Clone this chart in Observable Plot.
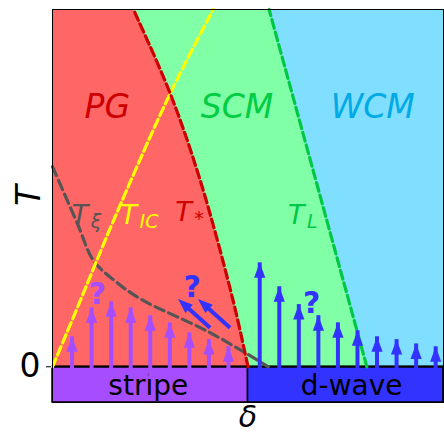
<!DOCTYPE html>
<html><head><meta charset="utf-8">
<script src="https://cdn.jsdelivr.net/npm/d3@7"></script>
<script src="https://cdn.jsdelivr.net/npm/@observablehq/plot@0.6"></script>
<style>body{margin:0;background:#fff;} svg{display:block;}</style>
</head><body><div id="chart"></div>
<script>
// Phase boundaries (δ, T)
const tStarX = [0.500, 0.462, 0.378, 0.301, 0.207];
const tStarY = [0, 0.185, 0.521, 0.765, 1];
const tIcX = [0, 0.071, 0.156, 0.301, 0.411];
const tIcY = [0, 0.185, 0.409, 0.765, 1];
const tXiX = [0.0, 0.064, 0.105, 0.161, 0.225, 0.404, 0.552];
const tXiY = [0.56, 0.40, 0.297, 0.239, 0.19, 0.095, 0.0];
const tLX = [0.804, 0.554];
const tLY = [0, 1];

// Regions
const regionNames = ["PG", "SCM", "WCM"];
const regionX = [0.14, 0.472, 0.819];
const regionY = [0.727, 0.727, 0.727];

// Curve labels
const curveSubs = ["ξ", "IC", "*", "L"];
const curveLabelX = [0.049, 0.174, 0.314, 0.602];
const curveLabelY = [0.425, 0.425, 0.433, 0.425];

// Ground-state bands
const bandNames = ["stripe", "d-wave"];
const bandX1 = [0, 0.5];
const bandX2 = [0.5, 1];
const bandLabelX = [0.245, 0.765];

// Arrows (order parameter strength)
const stripeX = [0.05, 0.10, 0.15, 0.20, 0.25, 0.30, 0.35, 0.40, 0.45];
const stripeH = [0.084, 0.165, 0.182, 0.165, 0.143, 0.123, 0.095, 0.076, 0.056];
const dwaveX = [0.53, 0.58, 0.63, 0.68, 0.73, 0.78, 0.83, 0.88, 0.93, 0.98];
const dwaveH = [0.291, 0.224, 0.174, 0.143, 0.123, 0.101, 0.084, 0.076, 0.064, 0.056];
const diagX1 = [0.403, 0.454];
const diagY1 = [0.109, 0.109];
const diagX2 = [0.321, 0.372];
const diagY2 = [0.190, 0.190];

// Question marks
const qX = [0.115, 0.357, 0.663];
const qY = [0.202, 0.223, 0.178];
const qKind = ["stripe", "d-wave", "d-wave"];

// y tick
const yTicks = [0];

// styles
const C = {
  red: "#ff6666", green: "#80ffa6", blue: "#80dfff",
  PG: "#cc0000", SCM: "#00cc44", WCM: "#00aae6",
  stripe: "#a64dff", "d-wave": "#3333ff",
  lines: ["#555555", "#ffff00", "#cc0000", "#00c846"]
};
const W = 444, H = 435, ML = 52, MR = 1, MT = 9, MB = 33;
const YD = [-0.1, 1];
const kx = (W - ML - MR), ky = (H - MT - MB) / (YD[1] - YD[0]);
const FONT = "DejaVu Sans";

const zip = (xs, ys) => xs.map((x, i) => ({x, y: ys[i]}));
const tStar = zip(tStarX, tStarY);
const tIc = zip(tIcX, tIcY);
const tXi = zip(tXiX, tXiY);
const tL = zip(tLX, tLY);
const regions = regionNames.map((name, i) => ({name, x: regionX[i], y: regionY[i]}));
const curveLabels = curveSubs.map((sub, i) => ({sub, x: curveLabelX[i], y: curveLabelY[i], c: C.lines[i]}));
const bands = bandNames.map((name, i) => ({name, x1: bandX1[i], x2: bandX2[i], lx: bandLabelX[i]}));
const stripeArrows = zip(stripeX, stripeH);
const dwaveArrows = zip(dwaveX, dwaveH);
const diag = diagX1.map((x1, i) => ({x1, y1: diagY1[i], x2: diagX2[i], y2: diagY2[i],
  a: Math.atan2((diagX2[i] - x1) * kx, (diagY2[i] - diagY1[i]) * ky) * 180 / Math.PI}));
const questions = qX.map((x, i) => ({x, y: qY[i], kind: qKind[i]}));

const head = {draw(ctx) { ctx.moveTo(0, 0); ctx.lineTo(5.6, 15); ctx.lineTo(-5.6, 15); ctx.closePath(); }};
const dash = {strokeWidth: 3.2, strokeDasharray: "9,4", curve: "catmull-rom"};

const chart = Plot.plot({
  width: W, height: H,
  marginLeft: ML, marginRight: MR, marginTop: MT, marginBottom: MB,
  style: {fontFamily: FONT, fontSize: "33px", background: "white", color: "black"},
  x: {domain: [0, 1], axis: null},
  y: {domain: YD, ticks: yTicks, tickSize: 6, tickPadding: 6, tickFormat: d => String(d), label: null},
  marks: [
    Plot.frame({fill: C.blue, stroke: "none"}),
    Plot.areaX(tL, {y: "y", x1: 0, x2: "x", fill: C.green}),
    Plot.areaX(tStar, {y: "y", x1: 0, x2: "x", fill: C.red, curve: "catmull-rom"}),
    Plot.rect(bands, {x1: "x1", x2: "x2", y1: YD[0], y2: 0, fill: d => C[d.name], stroke: "black", strokeWidth: 1.5}),
    Plot.text(bands, {x: "lx", y: YD[0] / 2, text: "name", fontSize: 28, fill: "black", dy: 1}),
    Plot.ruleY([0], {stroke: "black", strokeWidth: 2}),
    Plot.line(tXi, {x: "x", y: "y", stroke: C.lines[0], ...dash, strokeDasharray: "10,5"}),
    Plot.line(tIc, {x: "x", y: "y", stroke: C.lines[1], ...dash}),
    Plot.line(tStar, {x: "x", y: "y", stroke: C.lines[2], ...dash}),
    Plot.line(tL, {x: "x", y: "y", stroke: C.lines[3], ...dash}),
    Plot.ruleX(stripeArrows, {x: "x", y1: 0, y2: "y", stroke: C.stripe, strokeWidth: 4, insetTop: 12}),
    Plot.dot(stripeArrows, {x: "x", y: "y", symbol: head, fill: C.stripe, stroke: "none"}),
    Plot.ruleX(dwaveArrows, {x: "x", y1: 0, y2: "y", stroke: C["d-wave"], strokeWidth: 4, insetTop: 12}),
    Plot.dot(dwaveArrows, {x: "x", y: "y", symbol: head, fill: C["d-wave"], stroke: "none"}),
    Plot.arrow(diag, {x1: "x1", y1: "y1", x2: "x2", y2: "y2", stroke: C["d-wave"], strokeWidth: 4, headLength: 0, insetEnd: 12, strokeLinecap: "butt"}),
    Plot.dot(diag, {x: "x2", y: "y2", rotate: "a", symbol: head, fill: C["d-wave"], stroke: "none"}),
    Plot.text(questions, {x: "x", y: "y", text: () => "?", fontSize: 30, fontWeight: "bold", fill: d => C[d.kind]}),
    Plot.text(regions, {x: "x", y: "y", text: "name", fontSize: 33, fontStyle: "italic", fill: d => C[d.name]}),
    Plot.text(curveLabels, {x: "x", y: "y", text: () => "T", fontSize: 27, fontStyle: "italic", textAnchor: "start", fill: "c"}),
    Plot.text(curveLabels, {x: "x", y: "y", text: "sub", fontSize: 19, fontStyle: "italic", textAnchor: "start", fill: "c", dx: 19, dy: 7}),
    Plot.text(["δ"], {text: d => d, frameAnchor: "bottom", lineAnchor: "top", dy: 3.5, fontSize: 30, fontStyle: "italic", fill: "black"}),
    Plot.text(["T"], {text: d => d, frameAnchor: "left", dx: -23.5, rotate: -90, fontSize: 34, fontStyle: "italic", fill: "black"}),
    Plot.frame({stroke: "black", strokeWidth: 1})
  ]
});
document.getElementById("chart").append(chart);
</script>
</body></html>
